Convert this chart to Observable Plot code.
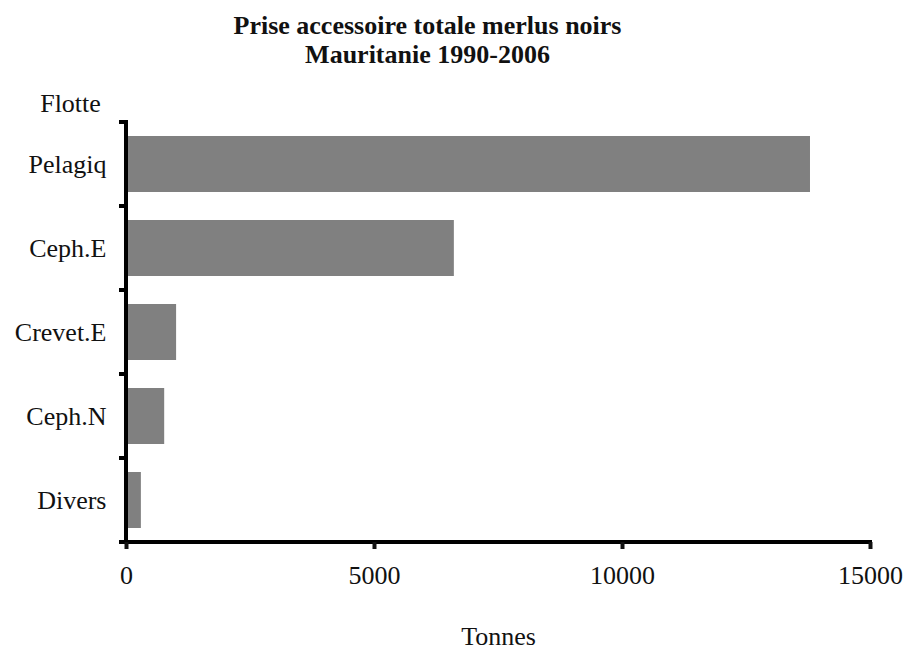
<!DOCTYPE html>
<html>
<head>
<meta charset="utf-8">
<script src="https://cdn.jsdelivr.net/npm/d3@7"></script>
<script src="https://cdn.jsdelivr.net/npm/@observablehq/plot@0.6"></script>
<style>
  html, body { margin: 0; padding: 0; background: #fff; }
  #title { width: 855px; height: 70px; box-sizing: border-box; padding-top: 11px;
    font-family: "Liberation Serif"; font-weight: bold;
    font-size: 26px; line-height: 29px; text-align: center; color: #111; }
  #chart svg, #chart svg text { font-family: "Liberation Serif" !important; }
</style>
</head>
<body>
<div id="title">Prise accessoire totale merlus noirs<br>Mauritanie 1990-2006</div>
<div id="chart"></div>
<script>
const categories = ["Pelagiq", "Ceph.E", "Crevet.E", "Ceph.N", "Divers"];
const tonnes = [13790, 6610, 1010, 770, 300];
const xTicks = [0, 5000, 10000, 15000];
const xLabel = "Tonnes";
const yLabel = "Flotte";

const data = categories.map((c, i) => ({flotte: c, tonnes: tonnes[i]}));

// custom mark: axis lines and y band-boundary ticks, placed from the x scale and the frame
function frameLines(index, scales, values, dimensions) {
  const {height, marginTop, marginBottom} = dimensions;
  const g = d3.create("svg:g");
  const x0 = scales.x(xTicks[0]);
  const x1 = scales.x(xTicks[xTicks.length - 1]);
  const yt = marginTop;
  const yb = height - marginBottom;
  const step = (yb - yt) / categories.length;
  const bounds = d3.range(categories.length + 1).map(i => yt + i * step);
  g.append("line").attr("x1", x0).attr("x2", x0).attr("y1", yt - 2).attr("y2", yb + 2)
    .attr("stroke", "black").attr("stroke-width", 4);
  g.append("line").attr("x1", x0 - 2).attr("x2", x1 + 2).attr("y1", yb).attr("y2", yb)
    .attr("stroke", "black").attr("stroke-width", 4);
  for (const b of bounds) {
    g.append("line").attr("x1", x0 - 7).attr("x2", x0).attr("y1", b).attr("y2", b)
      .attr("stroke", "black").attr("stroke-width", 4);
  }
  return g.node();
}

const chart = Plot.plot({
  width: 907,
  height: 582,
  marginTop: 52,
  marginBottom: 110,
  marginLeft: 126,
  marginRight: 37,
  style: {fontFamily: "'Liberation Serif'", fontSize: "26px", color: "#111", background: "#fff"},
  x: {domain: [0, 15000]},
  y: {domain: categories, paddingInner: 1/3, paddingOuter: 1/6},
  marks: [
    Plot.barX(data, {x: "tonnes", y: "flotte", fill: "#808080"}),
    frameLines,
    Plot.axisX({ticks: xTicks, tickSize: 7, tickPadding: 16, strokeWidth: 4, tickFormat: d => String(d), label: null, fontSize: 26, fontFamily: "Liberation Serif"}),
    Plot.axisY({tickSize: 0, tickPadding: 20, label: null, fontSize: 26, fontFamily: "Liberation Serif"}),
    Plot.text([xLabel], {frameAnchor: "bottom", dy: 102, text: d => d, fontSize: 26, fill: "#111", fontFamily: "Liberation Serif"}),
    Plot.text([yLabel], {frameAnchor: "top-left", dx: -56, dy: -29, text: d => d, fontSize: 26, fill: "#111", textAnchor: "middle", fontFamily: "Liberation Serif"})
  ]
});
document.getElementById("chart").appendChild(chart);
</script>
</body>
</html>
